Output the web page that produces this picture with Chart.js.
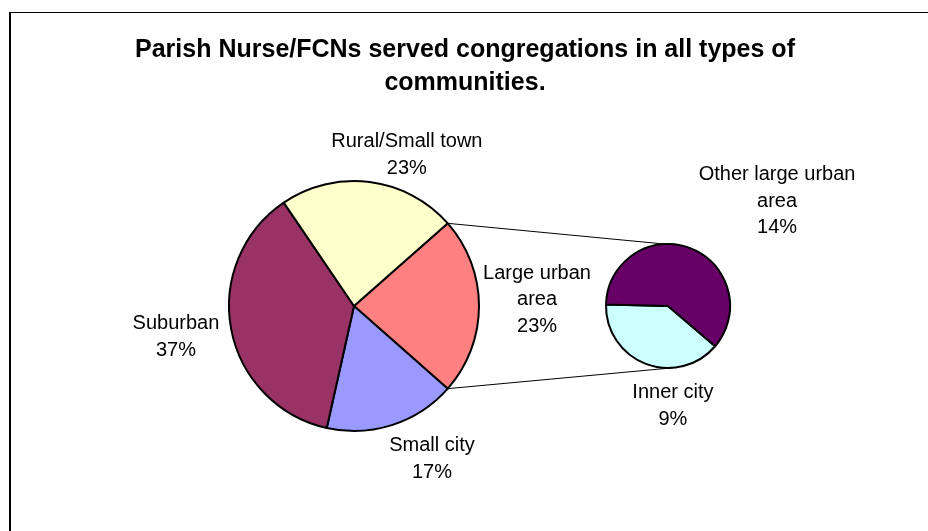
<!DOCTYPE html>
<html><head><meta charset="utf-8">
<script src="https://cdn.jsdelivr.net/npm/chart.js@4.4.0/dist/chart.umd.min.js"></script>
<style>
html,body{margin:0;padding:0;background:#fff;overflow:hidden;}
#wrap{position:relative;width:928px;height:531px;overflow:hidden;background:#fff;}
#frame{position:absolute;left:9px;top:12px;width:1000px;height:1000px;border-top:1px solid #000;border-left:2px solid #000;}
canvas{position:absolute;left:0;top:0;}
</style></head><body>
<div id="wrap"><div id="frame"></div>
<canvas id="main" width="928" height="531"></canvas>
<canvas id="sub" width="928" height="531"></canvas>
</div>
<script>
// ---- data ----
const titleLines = ['Parish Nurse/FCNs served congregations in all types of', 'communities.'];
const mainCategories = [['Large urban', 'area'], ['Small city'], ['Suburban'], ['Rural/Small town']];
const mainValues = [23, 17, 37, 23];
const subCategories = [['Inner city'], ['Other large urban', 'area']];
const subValues = [9, 14];

const mainColors = ['#FF8080', '#9999FF', '#993366', '#FFFFCC'];
const subColors = ['#CCFFFF', '#660066'];
const FONT = "'Liberation Sans', Arial, sans-serif";

function labelPlugin(place) {
  return {
    id: 'sliceLabels',
    afterDatasetsDraw(chart) {
      const ctx = chart.ctx;
      const meta = chart.getDatasetMeta(0);
      const ds = chart.data.datasets[0];
      ctx.save();
      ctx.font = '20px ' + FONT;
      ctx.fillStyle = '#000';
      ctx.textAlign = 'center';
      ctx.textBaseline = 'middle';
      meta.data.forEach((arc, i) => {
        const p = place[i];
        const mid = (arc.startAngle + arc.endAngle) / 2 + p.shift * Math.PI / 180;
        const d = arc.outerRadius * p.dist;
        const cx = arc.x + Math.cos(mid) * d;
        const cy = arc.y + Math.sin(mid) * d;
        const lab = chart.data.labels[i];
        const lines = (Array.isArray(lab) ? lab : [lab]).concat([ds.data[i] + '%']);
        const lh = 26.5;
        lines.forEach((t, k) => ctx.fillText(t, cx, cy + (k - (lines.length - 1) / 2) * lh));
      });
      ctx.restore();
    }
  };
}

const titlePlugin = {
  id: 'titleText',
  afterDraw(chart) {
    const ctx = chart.ctx;
    ctx.save();
    ctx.font = 'bold 25px ' + FONT;
    ctx.fillStyle = '#000';
    ctx.textAlign = 'center';
    ctx.textBaseline = 'middle';
    titleLines.forEach((t, k) => ctx.fillText(t, chart.width / 2 + 1, 50 + k * 33));
    ctx.restore();
  }
};

const mainTotal = mainValues.reduce((a, b) => a + b, 0);
const mainChart = new Chart(document.getElementById('main'), {
  type: 'pie',
  data: {
    labels: mainCategories,
    datasets: [{
      data: mainValues,
      backgroundColor: mainColors,
      borderColor: '#000',
      borderWidth: 2
    }]
  },
  options: {
    responsive: false,
    animation: false,
    events: [],
    radius: 125,
    rotation: 90 - (mainValues[0] / mainTotal) * 180,
    layout: { padding: { left: 0, right: 220, top: 81, bottom: 0 } },
    plugins: { legend: { display: false }, tooltip: { enabled: false }, title: { display: false } }
  },
  plugins: [labelPlugin([
    { shift: -1.9, dist: 1.465 },
    { shift: -9, dist: 1.374 },
    { shift: 0.9, dist: 1.446 },
    { shift: 12.1, dist: 1.28 }
  ]), titlePlugin]
});

const connectorPlugin = {
  id: 'connectors',
  afterDatasetsDraw(chart) {
    const big = mainChart.getDatasetMeta(0).data[0];
    const small = chart.getDatasetMeta(0).data[0];
    const R = big.outerRadius, r = small.outerRadius;
    const ctx = chart.ctx;
    ctx.save();
    ctx.strokeStyle = '#000';
    ctx.lineWidth = 1;
    ctx.beginPath();
    ctx.moveTo(big.x + Math.cos(big.startAngle) * R, big.y + Math.sin(big.startAngle) * R);
    ctx.lineTo(small.x + Math.cos(-Math.PI / 2 - 0.05) * r, small.y + Math.sin(-Math.PI / 2 - 0.05) * r);
    ctx.moveTo(big.x + Math.cos(big.endAngle) * R, big.y + Math.sin(big.endAngle) * R);
    ctx.lineTo(small.x + Math.cos(Math.PI / 2 - 0.08) * r, small.y + Math.sin(Math.PI / 2 - 0.08) * r);
    ctx.stroke();
    ctx.restore();
  }
};

const subChart = new Chart(document.getElementById('sub'), {
  type: 'pie',
  data: {
    labels: subCategories,
    datasets: [{
      data: subValues,
      backgroundColor: subColors,
      borderColor: '#000',
      borderWidth: 2
    }]
  },
  options: {
    responsive: false,
    animation: false,
    events: [],
    radius: 62,
    rotation: 130.5,
    layout: { padding: { left: 408, right: 0, top: 81, bottom: 0 } },
    plugins: { legend: { display: false }, tooltip: { enabled: false }, title: { display: false } }
  },
  plugins: [connectorPlugin, labelPlugin([
    { shift: -23.75, dist: 1.615 },
    { shift: 25.2, dist: 2.44 }
  ])]
});
</script>
</body></html>
